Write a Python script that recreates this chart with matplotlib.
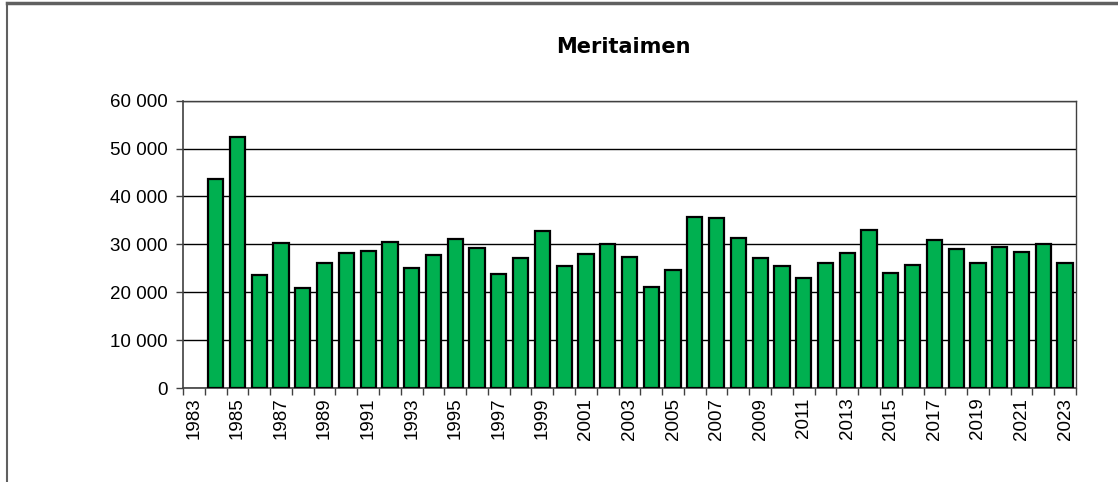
"""Meritaimen: yearly catch bar chart."""
import numpy as np
import matplotlib
matplotlib.use("Agg")
import matplotlib.pyplot as plt
from matplotlib.ticker import FuncFormatter, FixedLocator

plt.rcParams["font.family"] = ["Liberation Sans", "DejaVu Sans"]

years = list(range(1983, 2024))
# 1983 has no value
catch = [np.nan, 43600, 52400, 23500, 30200, 20800, 26100, 28200, 28600, 30500,
         25100, 27800, 31100, 29300, 23900, 27200, 32800, 25400, 27900, 30100,
         27400, 21200, 24700, 35800, 35500, 31400, 27200, 25500, 22900, 26100,
         28100, 33000, 24000, 25700, 30900, 29100, 26100, 29500, 28400, 30000,
         26100]
title = "Meritaimen"

fig = plt.figure(figsize=(11.18, 4.82), dpi=100)
ax = fig.add_axes([0.1637, 0.195, 0.7987, 0.596])

x = np.arange(len(years))
ax.bar(x, catch, width=0.7, color="#00B050", edgecolor="black", linewidth=1.6, zorder=3)

ax.set_xlim(-0.5, len(years) - 0.5)
ax.set_ylim(0, 60000)
ax.set_yticks(range(0, 60001, 10000))
ax.yaxis.set_major_formatter(FuncFormatter(lambda v, p: f"{int(v):,}".replace(",", " ")))
ax.grid(axis="y", color="black", linewidth=1.0, zorder=1)

# labels every other year, tick marks between categories
ax.set_xticks(x[::2])
ax.set_xticklabels([str(y) for y in years[::2]], rotation=90)
ax.tick_params(axis="x", which="major", length=0, pad=7)
ax.xaxis.set_minor_locator(FixedLocator(np.arange(-0.5, len(years), 1.0)))
ax.tick_params(axis="x", which="minor", length=5, width=1.0, color="#404040")
ax.tick_params(axis="y", length=5, width=1.0, color="#404040", pad=6)
ax.tick_params(labelsize=13.5)

for s in ["left", "bottom"]:
    ax.spines[s].set_color("#404040")
    ax.spines[s].set_linewidth(1.2)
for s in ["top", "right"]:
    ax.spines[s].set_color("#404040")
    ax.spines[s].set_linewidth(1.0)

fig.text(0.558, 0.902, title, ha="center", va="center", fontsize=15,
         fontweight="heavy", family="DejaVu Sans")

# outer chart frame (left and top edges visible)
fig.add_artist(plt.Line2D([0.0063, 0.0063], [0, 0.993], color="#606060", linewidth=1.5))
fig.add_artist(plt.Line2D([0.0063, 1.0], [0.993, 0.993], color="#606060", linewidth=2.5))

fig.savefig("out.png", dpi=100)
